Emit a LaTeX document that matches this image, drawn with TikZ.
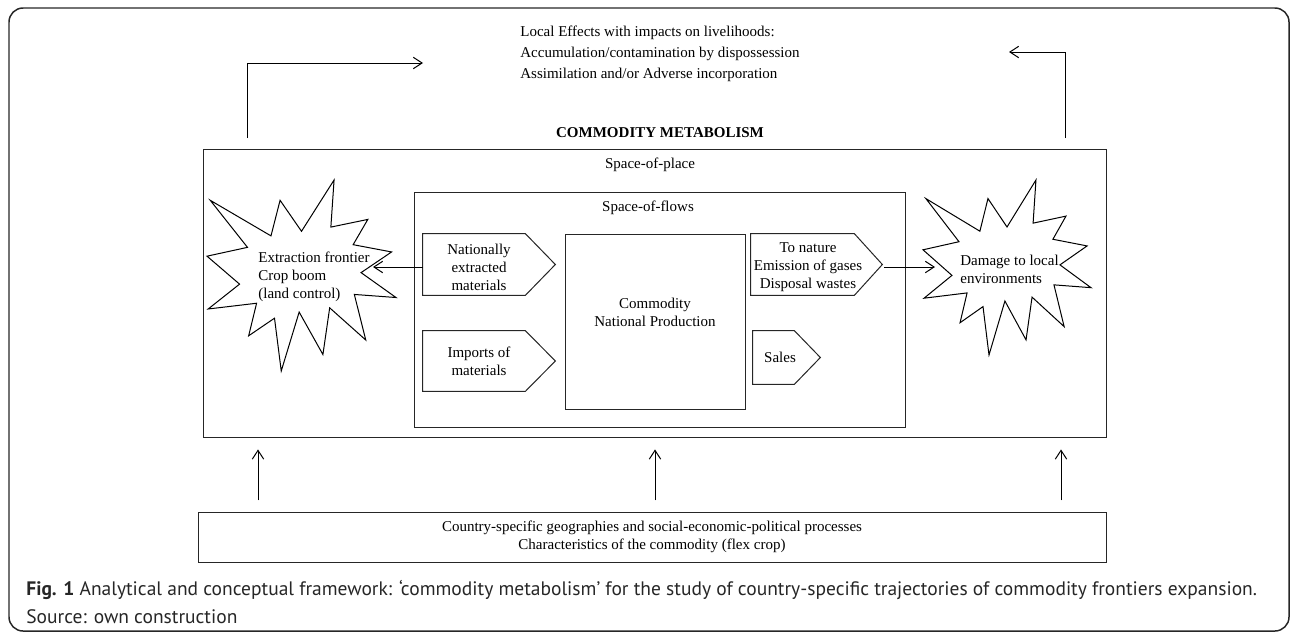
\documentclass[tikz,border=0pt]{standalone}
\usepackage{fontspec}
\setmainfont{Liberation Serif}
\newfontfamily\capfont{PT Sans}
\usepackage{tikz}
\usetikzlibrary{positioning,fit,calc,arrows.meta}
\tikzset{figtext/.style={font=\fontsize{8.54}{10.24}\selectfont, inner sep=0, align=center}}
\tikzset{dbox/.style={draw=black!85, line width=0.57pt, inner sep=0}}
\tikzset{arr/.style={draw, line width=0.57pt, -{Straight Barb[length=5pt,width=6.5pt]}}}
\tikzset{burst/.style={draw, line width=0.57pt, line join=miter}}
\tikzset{captext/.style={font=\capfont\fontsize{11.1}{15.9}\selectfont, text=black!85, inner sep=0}}
% explosion outline in a 216 x 216 box
\newcommand{\burst}[4]{\draw[burst, shift={(#1,#2)}, xscale=#3/216, yscale=#4/216]
  (108,58) -- (145.22,0) -- (141.55,53.25) -- (183.80,44.57) -- (167.02,73.15)
  -- (210.97,81.37) -- (176.07,104.75) -- (216,132.90) -- (168.37,129.42)
  -- (181.45,180.95) -- (140.20,144.57) -- (132.47,197.37) -- (105.32,149.35)
  -- (84.85,216) -- (77.15,156.27) -- (47.62,176.17) -- (56.67,139.37)
  -- (1.35,145.87) -- (37.22,117.75) -- (0,86.15) -- (46.27,76.17)
  -- (3.70,22.95) -- (73.12,63.20) -- (83.52,22.95) -- cycle;}
% arrow-shaped box round a node
\newcommand{\pentout}[2]{\draw[dbox] (#1.north west) -- (#1.north east)
  -- ($(#1.east)+(#2,0)$) -- (#1.south east) -- (#1.south west) -- cycle;}

\begin{document}
\begin{tikzpicture}[x=0.02cm, y=-0.02cm]
    \useasboundingbox (0,0) rectangle (1290,632);
    \draw[line width=0.85pt, black!85, rounded corners=8] (9,8) rectangle (1289,631);

    % effects on top
    \node[figtext, anchor=west, align=left, font=\fontsize{8.54}{11.95}\selectfont]
        (effects) at (520,53.5)
        {Local Effects with impacts on livelihoods:\\
         Accumulation/contamination by dispossession\\
         Assimilation and/or Adverse incorporation};
    \node[figtext, font=\fontsize{8.54}{10.24}\selectfont\bfseries]
        (title) at (660,133) {COMMODITY METABOLISM};

    % nested spaces
    \node[dbox, fit={(203,149) (1106,437)}] (place) {};
    \node[dbox, fit={(414,192) (905,427)}] (flows) {};
    \node[dbox, fit={(565,234) (745,409)}] (prod) {};
    \node[figtext] (placelbl) at (650,165) {Space-of-place};
    \node[figtext] (flowslbl) at (648,208) {Space-of-flows};
    \node[figtext] (prodlbl) at (655,312) {Commodity\\National Production};

    % inputs and outputs
    \node[inner sep=0, fit={(423,234) (525,295)}] (nat) {};
    \node[inner sep=0, fit={(423,331) (525,391)}] (imp) {};
    \node[inner sep=0, fit={(751,234) (854,295)}] (nature) {};
    \node[inner sep=0, fit={(753,331) (794,384)}] (sales) {};
    \pentout{nat}{30}
    \pentout{imp}{30}
    \pentout{nature}{28}
    \pentout{sales}{26}
    \node[figtext] (natlbl) at (479,267) {Nationally\\extracted\\materials};
    \node[figtext] (implbl) at (479,361) {Imports of\\materials};
    \node[figtext] (naturelbl) at (808,267) {To nature\\Emission of gases\\Disposal wastes};
    \node[figtext] (saleslbl) at (780,357) {Sales};

    % frontier and damage
    \burst{207}{180}{189}{191}
    \burst{923}{180}{168}{175}
    \node[figtext, anchor=west, align=left] (ext) at (258,277)
        {Extraction frontier\\Crop boom\\(land control)};
    \node[figtext, anchor=west, align=left] (dmg) at (960,269)
        {Damage to local\\environments};
    \coordinate (exttip) at (373,267);
    \coordinate (dmgtip) at (935,267);
    \draw[arr] (nat.west |- exttip) -- (exttip);
    \draw[arr] ($(nature.east |- dmgtip)+(30,0)$) -- (dmgtip);

    % feedback to local effects
    \coordinate (upL) at (247,138);
    \coordinate (upR) at (1065,138);
    \coordinate (effL) at (423,63);
    \coordinate (effR) at (1009,52);
    \draw[arr] (upL) |- (effL);
    \draw[arr] (upR) |- (effR);

    % country context
    \node[dbox, fit={(198,512) (1106,562)}] (base) {};
    \node[figtext] (baselbl) at (base.center)
        {Country-specific geographies and social-economic-political processes\\
         Characteristics of the commodity (flex crop)};
    \foreach \x in {258,655,1061} {
        \coordinate (c) at (\x,0);
        \draw[arr, shorten <=6.3pt, shorten >=6.8pt] (base.north -| c) -- (place.south -| c);
    }

    % caption
    \node[captext, anchor=base west] (capA) at (26,595)
        {{\bfseries Fig. 1} Analytical and conceptual framework: ‘commodity metabolism’ for the study of country-specific trajectories of commodity frontiers expansion.};
    \node[captext, anchor=base west] (capB) at ($(capA.base west)+(0,28)$)
        {Source: own construction};
\end{tikzpicture}
\end{document}
